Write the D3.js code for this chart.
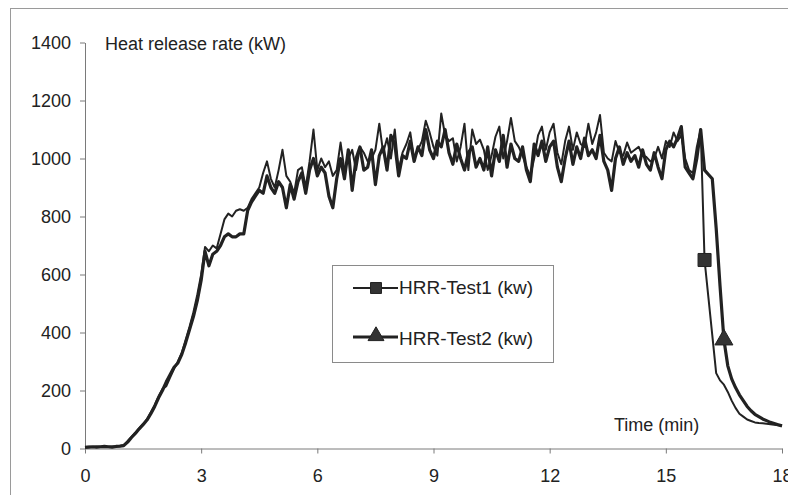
<!DOCTYPE html>
<html><head><meta charset="utf-8">
<script src="https://cdn.jsdelivr.net/npm/d3@7"></script>
<style>html,body{margin:0;padding:0;background:#fff;} svg{display:block;font-family:"Liberation Sans",Arial,sans-serif;}</style>
</head><body><svg id="c" width="788" height="495"></svg>
<script>
// ---- data ----
const timeStep = 0.1; // minutes between readings
const test1 = [
  5, 6, 5, 7, 6, 5, 6, 7, 8, 8,
  12, 25, 40, 55, 70, 85, 100, 125, 150, 180,
  205, 215, 245, 275, 300, 330, 375, 420, 470, 530,
  600, 695, 680, 700, 690, 740, 790, 810, 800, 820,
  825, 820, 830, 860, 880, 900, 950, 990, 930, 900,
  960, 1030, 940, 920, 880, 960, 970, 900, 990, 1100,
  960, 1000, 970, 990, 940, 960, 1055, 960, 1000, 1030,
  960, 1040, 1020, 990, 1000, 1030, 1120, 1020, 1070, 1000,
  1100, 960, 1020, 1050, 1090, 1000, 1030, 1060, 1130, 1090,
  1040, 1010, 1155, 1080, 1060, 1070, 990, 1040, 1120, 960,
  1100, 1050, 1065, 1030, 960, 1010, 1075, 1110, 1000, 1060,
  1140, 1060, 1040, 1010, 970, 940, 1000, 1080, 1110, 1030,
  1090, 1120, 1020, 980, 1060, 1110, 1030, 1090, 1050, 1040,
  1120, 1050, 1090, 1150, 1020, 1000, 990, 1060, 1020, 1010,
  1055, 1020, 1030, 1040, 1010, 1005, 990, 1000, 1040, 1000,
  1060, 1040, 1090, 1060, 1080, 1000, 960, 950, 1040, 1100,
  650, 520, 390, 260, 235, 220, 195, 165, 140, 120,
  110, 100, 95, 90, 88, 87, 85, 84, 82, 80,
  78
];
const test2 = [
  4, 5, 6, 5, 6, 7, 6, 5, 7, 8,
  10, 22, 38, 52, 68, 82, 98, 120, 145, 175,
  200, 230, 255, 280, 295, 325, 365, 410, 455, 510,
  580, 680, 630, 670, 680, 700, 730, 740, 730, 730,
  740, 740, 820, 850, 870, 890, 880, 940, 900, 880,
  920, 900, 830, 910, 860, 920, 950, 880, 960, 1000,
  940, 970, 950, 870, 830, 930, 1000, 930, 1030, 890,
  1000, 1040, 960, 970, 1030, 910, 1010, 1040, 960, 1080,
  1050, 940, 1010, 1000, 1060, 990, 1040, 1010, 1100, 1030,
  1000, 1060, 1040, 1100, 1020, 980, 1050, 1000, 960, 1020,
  1040, 970, 1000, 960, 1040, 940, 1030, 990, 1080, 970,
  1050, 1000, 990, 1040, 960, 920, 1050, 1010, 1060, 990,
  1040, 1060, 970, 920, 1000, 1060, 980, 1040, 1000, 1070,
  1010, 1030, 1000, 1080, 990, 960, 890, 1000, 1040, 980,
  1020, 990, 1010, 970, 1030, 980, 960, 1020, 970, 930,
  1030, 1060, 1040, 1070, 1110, 970, 950, 930, 1000, 1100,
  960, 945, 930, 760, 560, 375, 285, 240, 210, 185,
  165, 145, 130, 118, 110, 102, 96, 90, 86, 82,
  78
];
const seriesNames = ["HRR-Test1 (kw)", "HRR-Test2 (kw)"];
const markerIndex = [160, 165]; // single marker per series
const xTicks = [0, 3, 6, 9, 12, 15, 18];
const yTicks = [0, 200, 400, 600, 800, 1000, 1200, 1400];
const yTitle = "Heat release rate (kW)";
const xTitle = "Time (min)";

// ---- drawing ----
const svg = d3.select("#c");
const ink = "#222";
const axisGrey = "#7a7a7a";

svg.append("rect").attr("x", 10.5).attr("y", 8.5).attr("width", 800).attr("height", 500)
  .attr("fill", "none").attr("stroke", "#9a9a9a").attr("stroke-width", 1);

const x = d3.scaleLinear().domain([0, 18]).range([85, 782]);
const y = d3.scaleLinear().domain([0, 1400]).range([448.5, 42.5]);

const yAxis = svg.append("g").attr("transform", "translate(85,0)")
  .call(d3.axisLeft(y).tickValues(yTicks).tickFormat(d3.format("d")).tickSize(5).tickSizeOuter(0).tickPadding(9));
const xAxis = svg.append("g").attr("transform", "translate(0,448.5)")
  .call(d3.axisBottom(x).tickValues(xTicks).tickFormat(d3.format("d")).tickSize(5).tickSizeOuter(0).tickPadding(16));
[xAxis, yAxis].forEach(g => {
  g.select(".domain").attr("stroke", axisGrey);
  g.selectAll(".tick line").attr("stroke", axisGrey);
  g.selectAll(".tick text").attr("fill", ink).style("font-size", "18px")
    .style("font-family", '"Liberation Sans", Arial, sans-serif');
});

const mk = arr => arr.map((v, i) => ({ t: i * timeStep, v }));
const s1 = mk(test1), s2 = mk(test2);
const line = d3.line().x(d => x(d.t)).y(d => y(d.v));

svg.append("path").datum(s2).attr("d", line).attr("fill", "none")
  .attr("stroke", ink).attr("stroke-width", 3.2).attr("stroke-linejoin", "round");
svg.append("path").datum(s1).attr("d", line).attr("fill", "none")
  .attr("stroke", ink).attr("stroke-width", 2).attr("stroke-linejoin", "round");

const sq = d3.symbol(d3.symbolSquare, 170);
const tri = d3.symbol(d3.symbolTriangle, 140);
const p1 = s1[markerIndex[0]], p2 = s2[markerIndex[1]];
svg.append("path").attr("d", sq()).attr("transform", `translate(${x(p1.t)},${y(p1.v)})`)
  .attr("fill", "#333").attr("stroke", ink).attr("stroke-width", 1);
svg.append("path").attr("d", tri()).attr("transform", `translate(${x(p2.t)},${y(p2.v)})`)
  .attr("fill", "#333").attr("stroke", ink).attr("stroke-width", 1);

svg.append("text").attr("x", 105).attr("y", 50).attr("fill", ink)
  .style("font-size", "18px").text(yTitle);
svg.append("text").attr("x", 614).attr("y", 431).attr("fill", ink)
  .style("font-size", "18px").text(xTitle);

// legend
const lg = svg.append("g");
lg.append("rect").attr("x", 332.5).attr("y", 265.5).attr("width", 221).attr("height", 97)
  .attr("fill", "#fff").attr("stroke", "#8a8a8a").attr("stroke-width", 1);
const rows = [{ yl: 288, yt: 294, w: 2, sym: sq }, { yl: 337, yt: 344.5, w: 3.2, sym: tri }];
rows.forEach((r, i) => {
  lg.append("line").attr("x1", 353).attr("x2", 398).attr("y1", r.yl).attr("y2", r.yl)
    .attr("stroke", ink).attr("stroke-width", r.w);
  lg.append("path").attr("d", i === 0 ? d3.symbol(d3.symbolSquare, 120)() : d3.symbol(d3.symbolTriangle, 110)())
    .attr("transform", `translate(376,${i === 0 ? r.yl : r.yl - 1})`)
    .attr("fill", "#333").attr("stroke", ink).attr("stroke-width", 1);
  lg.append("text").attr("x", 399).attr("y", r.yt).attr("fill", ink)
    .style("font-size", "19px").text(seriesNames[i]);
});
</script></body></html>
